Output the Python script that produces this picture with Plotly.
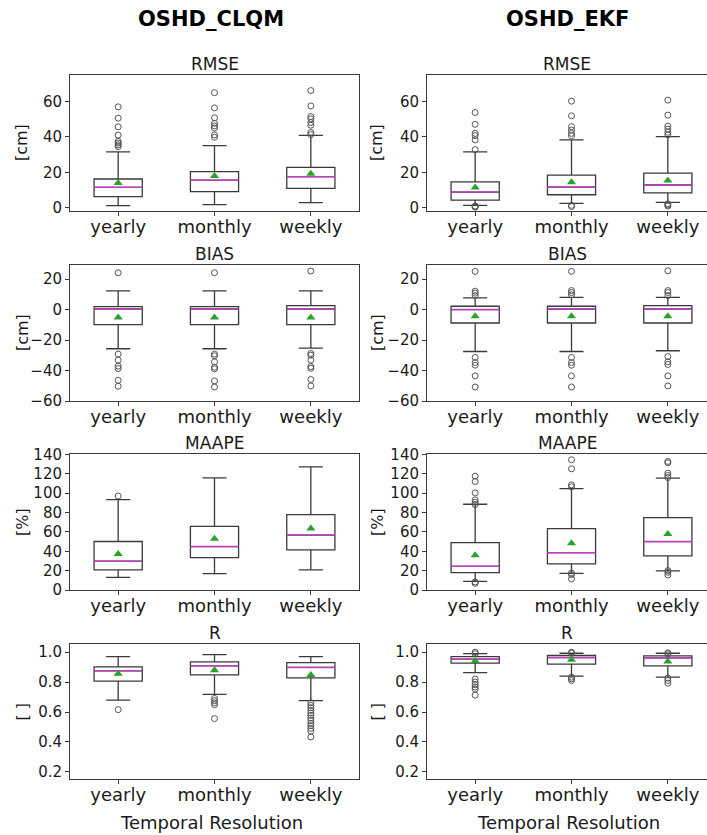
import plotly.graph_objects as go

# ---------------- data ----------------
categories = ["yearly", "monthly", "weekly"]
positions = [1, 2, 3]

# per category: [lower whisker, q1, median, q3, upper whisker, mean]
clqm_rmse_stats = [[1.1, 6.2, 11.5, 16.2, 31.5, 14.0],
                   [1.7, 9.0, 15.5, 20.4, 35.1, 17.9],
                   [2.8, 10.9, 17.5, 22.8, 40.9, 19.2]]
clqm_rmse_fliers = [[57.0, 50.6, 45.7, 41.0, 37.5, 36.5, 35.5, 34.5],
                    [65.0, 56.4, 50.8, 47.7, 46.2, 45.0, 41.1, 39.8],
                    [66.2, 57.5, 51.5, 50.2, 48.1, 46.6, 42.5, 41.3]]

ekf_rmse_stats = [[1.3, 4.3, 8.8, 14.6, 31.5, 11.4],
                  [2.4, 7.3, 11.6, 18.4, 38.3, 14.4],
                  [3.0, 8.3, 12.8, 19.5, 40.1, 15.4]]
ekf_rmse_fliers = [[53.8, 47.1, 42.0, 40.7, 38.3, 32.8, 0.3, 0.6, 0.9],
                   [60.2, 51.9, 45.8, 43.9, 42.0, 40.7, 1.3, 0.6],
                   [60.8, 52.3, 46.1, 44.4, 42.6, 41.1, 1.5, 2.2, 0.9]]

clqm_bias_stats = [[-25.7, -9.9, 0.4, 2.0, 12.3, -5.1],
                   [-25.7, -9.9, 0.4, 2.0, 12.3, -5.1],
                   [-25.3, -9.9, 0.4, 2.6, 12.3, -5.1]]
clqm_bias_fliers = [[24.2, -29.2, -33.2, -37.1, -38.7, -46.4, -50.3],
                    [24.2, -29.2, -30.3, -34.3, -37.8, -38.9, -46.8, -50.8],
                    [25.3, -28.8, -29.9, -33.2, -37.4, -38.5, -45.9, -50.1]]

ekf_bias_stats = [[-27.5, -8.8, 0.0, 2.2, 7.7, -4.4],
                  [-27.5, -8.8, 0.4, 2.2, 8.1, -4.4],
                  [-27.0, -8.8, 0.4, 2.6, 8.1, -4.4]]
ekf_bias_fliers = [[25.1, 12.1, 10.8, 9.2, -31.4, -34.7, -36.5, -43.5, -50.8],
                   [25.1, 12.5, 11.2, 9.7, -31.4, -34.7, -36.5, -43.5, -50.8],
                   [25.5, 12.5, 11.2, 9.2, -30.8, -34.3, -36.0, -43.5, -50.1]]

clqm_maape_stats = [[13.1, 20.7, 29.7, 50.1, 93.3, 37.3],
                    [16.9, 33.5, 44.9, 65.7, 115.8, 52.9],
                    [20.7, 41.5, 56.7, 77.8, 127.2, 63.6]]
clqm_maape_fliers = [[97.1], [], []]

ekf_maape_stats = [[9.0, 17.9, 24.5, 49.0, 88.6, 35.9],
                   [17.2, 26.9, 38.6, 63.4, 104.8, 48.3],
                   [19.7, 35.2, 50.0, 74.8, 115.5, 57.9]]
ekf_maape_fliers = [[117.6, 112.1, 100.3, 93.1, 90.7, 88.3, 8.3, 6.9],
                    [134.5, 125.2, 108.6, 106.6, 17.6, 15.9, 11.4],
                    [132.8, 131.4, 120.7, 118.3, 116.2, 20.0, 18.3, 15.5]]

clqm_r_stats = [[0.680, 0.807, 0.876, 0.902, 0.971, 0.856],
                [0.718, 0.849, 0.909, 0.936, 0.984, 0.880],
                [0.676, 0.829, 0.898, 0.931, 0.971, 0.847]]
clqm_r_fliers = [[0.616],
                 [0.691, 0.676, 0.662, 0.649, 0.556],
                 [0.662, 0.644, 0.629, 0.611, 0.593, 0.578, 0.560, 0.542,
                  0.524, 0.509, 0.491, 0.473, 0.433]]

ekf_r_stats = [[0.864, 0.927, 0.953, 0.971, 0.991, 0.942],
               [0.840, 0.920, 0.964, 0.978, 0.993, 0.949],
               [0.833, 0.909, 0.962, 0.976, 0.993, 0.938]]
ekf_r_fliers = [[1.0, 0.99, 0.820, 0.800, 0.782, 0.767, 0.753, 0.713],
                [1.0, 0.993, 0.833, 0.822, 0.811],
                [0.996, 0.989, 0.827, 0.811, 0.793]]

column_titles = ["OSHD_CLQM", "OSHD_EKF"]
row_titles = ["RMSE", "BIAS", "MAAPE", "R"]
row_units = ["[cm]", "[cm]", "[%]", "[ ]"]
x_title = "Temporal Resolution"

rmse_ticks = [0, 20, 40, 60]
rmse_ticklabels = ["0", "20", "40", "60"]
bias_ticks = [-60, -40, -20, 0, 20]
bias_ticklabels = ["\u221260", "\u221240", "\u221220", "0", "20"]
maape_ticks = [0, 20, 40, 60, 80, 100, 120, 140]
maape_ticklabels = ["0", "20", "40", "60", "80", "100", "120", "140"]
r_ticks = [0.2, 0.4, 0.6, 0.8, 1.0]
r_ticklabels = ["0.2", "0.4", "0.6", "0.8", "1.0"]

# ---------------- layout constants ----------------
W, H = 707, 835
FONT = "DejaVu Sans"
TXT = "#1a1a1a"
LINE = "#3a3a3a"
MEDIAN = "#bf3fbf"
MEAN = "#2ca02c"
FLIER = "#555555"

col_px = [(70, 359), (427, 707)]
row_px = [(75, 211), (265, 401), (454, 590), (644, 779)]
y_ranges = [[-1.9, 75], [-60, 29.3], [0, 140.5], [0.152, 1.055]]
px_per_unit = (359 - 70) / 3.0
x_ranges = [[0.5, 3.5], [0.5, 0.5 + (707 - 427) / px_per_unit]]

panels = [
    [(clqm_rmse_stats, clqm_rmse_fliers), (ekf_rmse_stats, ekf_rmse_fliers)],
    [(clqm_bias_stats, clqm_bias_fliers), (ekf_bias_stats, ekf_bias_fliers)],
    [(clqm_maape_stats, clqm_maape_fliers), (ekf_maape_stats, ekf_maape_fliers)],
    [(clqm_r_stats, clqm_r_fliers), (ekf_r_stats, ekf_r_fliers)],
]
row_ticks = [(rmse_ticks, rmse_ticklabels), (bias_ticks, bias_ticklabels),
             (maape_ticks, maape_ticklabels), (r_ticks, r_ticklabels)]

fig = go.Figure()
layout = {}
annotations = []
half = 0.25

idx = 0
for r in range(4):
    for c in range(2):
        idx += 1
        xa = "x" if idx == 1 else f"x{idx}"
        ya = "y" if idx == 1 else f"y{idx}"
        stats, fliers = panels[r][c]
        lw = [s[0] for s in stats]
        q1 = [s[1] for s in stats]
        med = [s[2] for s in stats]
        q3 = [s[3] for s in stats]
        uw = [s[4] for s in stats]
        mean = [s[5] for s in stats]

        fig.add_trace(go.Box(
            x=positions, q1=q1, median=med, q3=q3, lowerfence=lw, upperfence=uw,
            width=0.5, whiskerwidth=0.5, fillcolor="white",
            line=dict(color=LINE, width=1.3), boxpoints=False,
            xaxis=xa, yaxis=ya, showlegend=False, hoverinfo="skip"))

        mx, my = [], []
        for p, m in zip(positions, med):
            mx += [p - half, p + half, None]
            my += [m, m, None]
        fig.add_trace(go.Scatter(x=mx, y=my, mode="lines",
                                 line=dict(color=MEDIAN, width=1.5),
                                 xaxis=xa, yaxis=ya, showlegend=False, hoverinfo="skip"))

        fx, fy = [], []
        for p, fl in zip(positions, fliers):
            fx += [p] * len(fl)
            fy += fl
        fig.add_trace(go.Scatter(x=fx, y=fy, mode="markers",
                                 marker=dict(symbol="circle-open", size=6,
                                             color=FLIER, line=dict(width=1)),
                                 xaxis=xa, yaxis=ya, showlegend=False, hoverinfo="skip"))

        fig.add_trace(go.Scatter(x=positions, y=mean, mode="markers",
                                 marker=dict(symbol="triangle-up", size=8, color=MEAN),
                                 xaxis=xa, yaxis=ya, showlegend=False, hoverinfo="skip"))

        x0, x1 = col_px[c]
        y0, y1 = row_px[r]
        tv, tt = row_ticks[r]
        xkey = "xaxis" if idx == 1 else f"xaxis{idx}"
        ykey = "yaxis" if idx == 1 else f"yaxis{idx}"
        layout[xkey] = dict(
            domain=[x0 / W, x1 / W], range=x_ranges[c], anchor=ya,
            tickmode="array", tickvals=positions, ticktext=categories,
            showline=True, mirror=True, linecolor=LINE, linewidth=1,
            ticks="outside", ticklen=4, tickcolor=LINE, tickwidth=1,
            ticklabelstandoff=-5, automargin=False,
            showgrid=False, zeroline=False, fixedrange=True,
            tickfont=dict(family=FONT, size=18, color=TXT))
        layout[ykey] = dict(
            domain=[1 - y1 / H, 1 - y0 / H], range=y_ranges[r], anchor=xa,
            tickmode="array", tickvals=tv, ticktext=tt,
            showline=True, mirror=(c == 0), linecolor=LINE, linewidth=1,
            ticks="outside", ticklen=4, tickcolor=LINE, tickwidth=1,
            automargin=False,
            showgrid=False, zeroline=False, fixedrange=True,
            tickfont=dict(family=FONT, size=15, color=TXT))

        # subplot title
        annotations.append(dict(
            text=row_titles[r], xref="paper", yref="paper",
            x=((x0 + min(x1, x0 + 3 * px_per_unit)) / 2) / W,
            y=1 - (y0 - 11) / H, xanchor="center", yanchor="middle",
            showarrow=False, font=dict(family=FONT, size=17, color=TXT)))
        # y unit label
        annotations.append(dict(
            text=row_units[r], xref="paper", yref="paper",
            x=(22 if c == 0 else 377) / W, y=1 - ((y0 + y1) / 2) / H,
            xanchor="center", yanchor="middle", textangle=-90,
            showarrow=False, font=dict(family=FONT, size=16, color=TXT)))

for c in range(2):
    x0 = col_px[c][0]
    xc = x0 + 1.5 * px_per_unit
    annotations.append(dict(
        text=f"<b>{column_titles[c]}</b>", xref="paper", yref="paper",
        x=(xc - 4) / W, y=1 - 19 / H, xanchor="center", yanchor="middle",
        showarrow=False, font=dict(family=FONT, size=21, color="black")))
    annotations.append(dict(
        text=x_title, xref="paper", yref="paper",
        x=(xc - 3) / W, y=1 - 822 / H, xanchor="center", yanchor="middle",
        showarrow=False, font=dict(family=FONT, size=18, color=TXT)))

fig.update_layout(
    template="none",
    width=W, height=H, margin=dict(l=0, r=0, t=0, b=0, pad=0, autoexpand=False),
    paper_bgcolor="white", plot_bgcolor="white",
    showlegend=False, annotations=annotations, **layout)

fig.write_html("out.html",
               config={"displayModeBar": False, "staticPlot": True},
               post_script="document.body.style.margin='0';"
                           "document.body.style.overflow='hidden';")
